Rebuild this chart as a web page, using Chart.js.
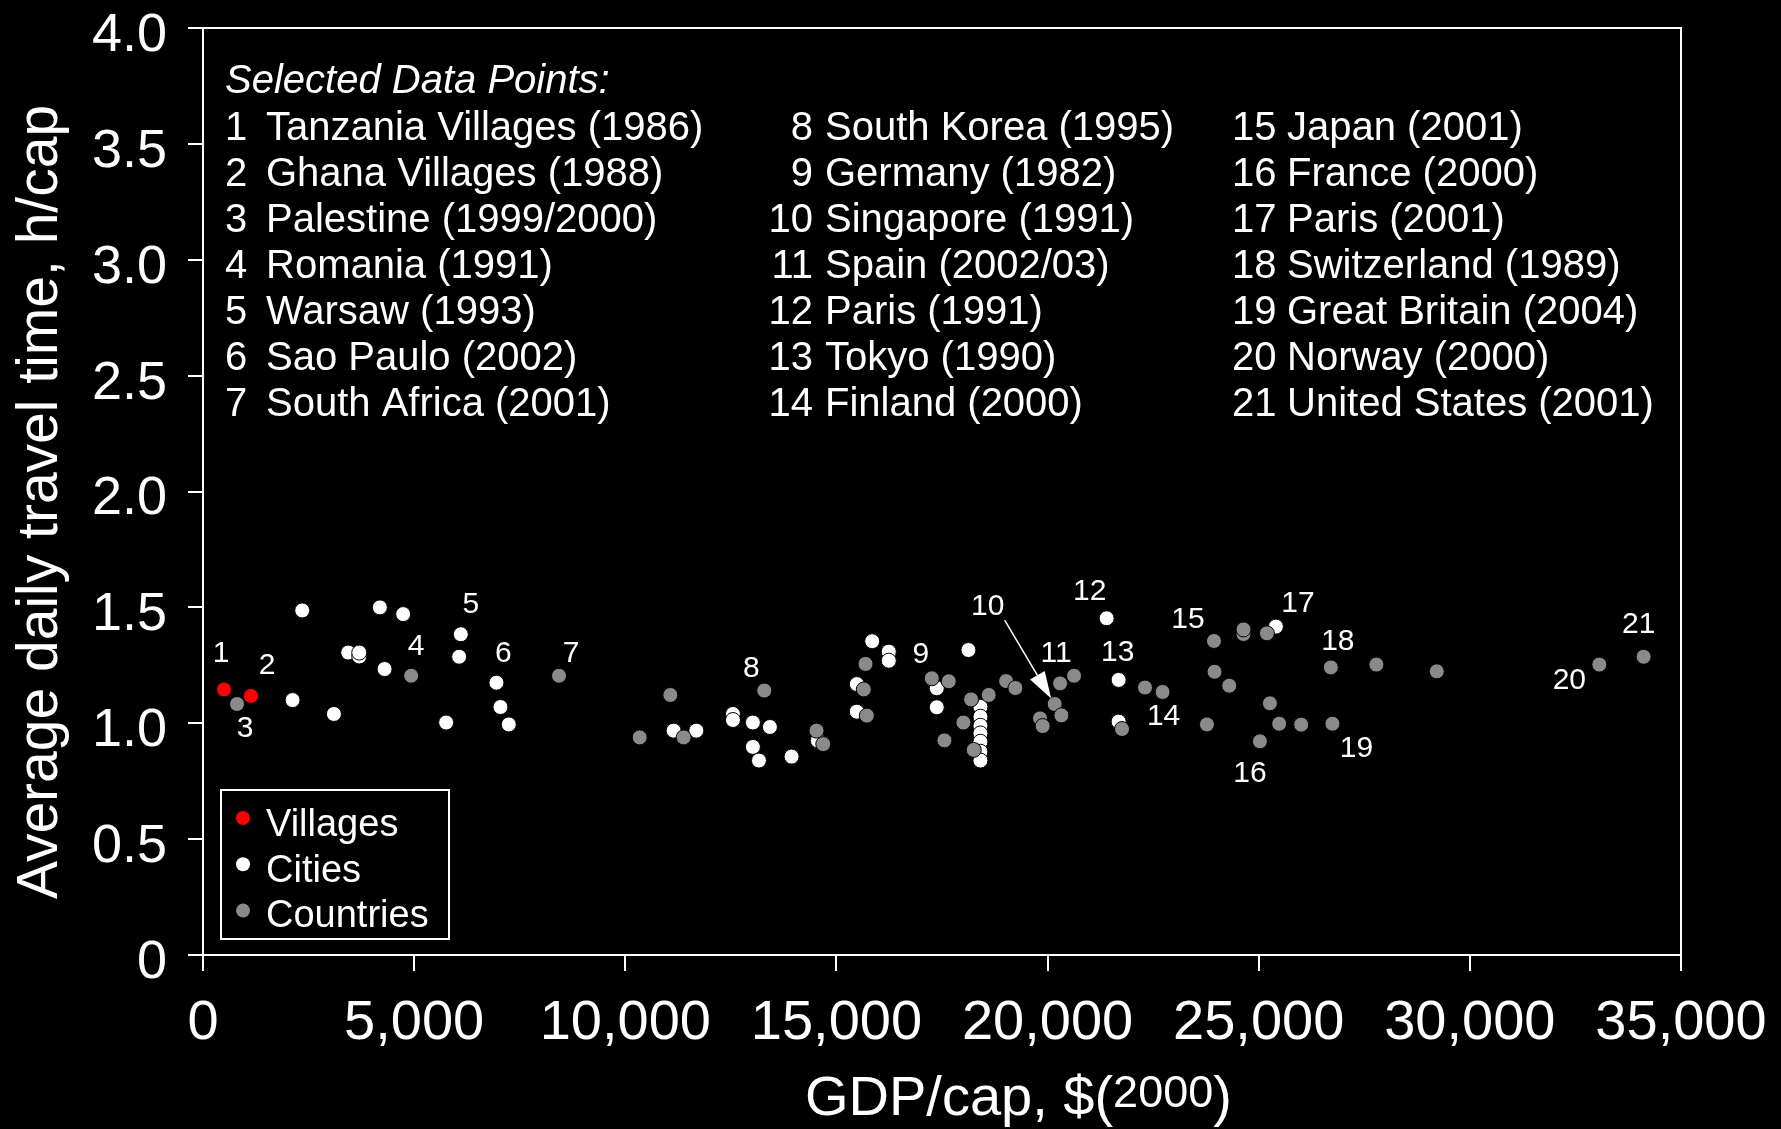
<!DOCTYPE html>
<html>
<head>
<meta charset="utf-8">
<script src="https://cdn.jsdelivr.net/npm/chart.js@4.4.1/dist/chart.umd.min.js"></script>
<style>
  html, body { margin: 0; padding: 0; background: #000; }
  #wrap { width: 1781px; height: 1129px; }
</style>
</head>
<body>
<div id="wrap"><canvas id="myChart" width="1781" height="1129"></canvas></div>
<script>
// GDP per capita in $(2000) against average daily travel time in h/cap
var villageGdp  = [497, 1136];
var villageTime = [1.146, 1.118];

var cityGdp  = [2350, 2122, 3100, 3439, 3700, 3700, 4188, 4740, 4300, 6105, 6066, 5758, 6949, 7044, 7241,
                11145, 11682, 12549, 12549, 13022, 13425, 13022, 13165, 13938, 14560,
                15847, 16240, 16240, 15483, 15483, 17376, 17376, 18126,
                18410, 18410, 18410, 18410, 18410, 18410, 18410,
                21399, 21683, 21683, 25407];
var cityTime = [1.487, 1.100, 1.040, 1.305, 1.288, 1.305, 1.500, 1.471, 1.234, 1.384, 1.287, 1.003, 1.175, 1.070, 0.995,
                0.968, 0.968, 1.040, 1.014, 1.003, 0.984, 0.898, 0.839, 0.856, 0.925,
                1.354, 1.309, 1.270, 1.169, 1.050, 1.151, 1.069, 1.316,
                1.071, 1.028, 0.989, 0.956, 0.920, 0.877, 0.839,
                1.453, 1.187, 1.007, 1.417];

var countryGdp  = [805, 4930, 8431, 10341, 11067, 11382, 13291, 14529, 14688, 15689, 15648, 15720,
                   17258, 17660, 18189, 18606, 18007, 17558, 18252, 19018, 19238, 19822, 19884,
                   20168, 20296, 20627, 20327, 21763, 22307, 22724, 23774, 23940, 23954, 24302,
                   24640, 24640, 25194, 25265, 25485, 25029, 26006, 26746, 26708, 27787, 29217,
                   33066, 34115];
var countryTime = [1.083, 1.205, 1.205, 0.939, 1.122, 0.939, 1.141, 0.968, 0.910, 1.256, 1.146, 1.033,
                   1.194, 1.181, 1.103, 1.122, 1.003, 0.926, 0.885, 1.182, 1.152, 1.021, 0.988,
                   1.083, 1.172, 1.205, 1.034, 0.975, 1.154, 1.135, 0.995, 1.355, 1.222, 1.162,
                   1.385, 1.405, 1.388, 1.086, 0.998, 0.922, 0.994, 0.998, 1.241, 1.253, 1.224,
                   1.253, 1.287];

// tick values
var xTicks = [0, 5000, 10000, 15000, 20000, 25000, 30000, 35000];
var yTicks = [0, 0.5, 1.0, 1.5, 2.0, 2.5, 3.0, 3.5, 4.0];

// numbered points in the plot: [number, gdp, time]
var selectedPoints = [
  [1, 497, 1.146], [2, 1136, 1.118], [3, 805, 1.083], [4, 4930, 1.205], [5, 6105, 1.384],
  [6, 6949, 1.175], [7, 8431, 1.205], [8, 13291, 1.141], [9, 17258, 1.194], [10, 20168, 1.083],
  [11, 20296, 1.172], [12, 21399, 1.453], [13, 21683, 1.187], [14, 22724, 1.135], [15, 23940, 1.355],
  [16, 25029, 0.922], [17, 25407, 1.417], [18, 26708, 1.241], [19, 26746, 0.998], [20, 33066, 1.253],
  [21, 34115, 1.287]
];

var selectedNames = [
  "Tanzania Villages (1986)", "Ghana Villages (1988)", "Palestine (1999/2000)", "Romania (1991)",
  "Warsaw (1993)", "Sao Paulo (2002)", "South Africa (2001)",
  "South Korea (1995)", "Germany (1982)", "Singapore (1991)", "Spain (2002/03)",
  "Paris (1991)", "Tokyo (1990)", "Finland (2000)",
  "Japan (2001)", "France (2000)", "Paris (2001)", "Switzerland (1989)",
  "Great Britain (2004)", "Norway (2000)", "United States (2001)"
];

var FONT = '"Liberation Sans", Arial, sans-serif';

function toPoints(xs, ys) {
  return xs.map((x, i) => ({ x: x, y: ys[i] }));
}

// where each number sits relative to its point, px
var labelOffsets = {
  1: [-3, -36], 2: [16, -30], 3: [8, 25], 4: [5, -29], 5: [10, -30], 6: [7, -29], 7: [12, -22],
  8: [-13, -22], 9: [-11, -24], 10: [-67, -97], 11: [-4, -30], 12: [-17, -27], 13: [-1, -27],
  14: [1, 25], 15: [-26, -21], 16: [-10, 32], 17: [22, -23], 18: [7, -26], 19: [24, 25],
  20: [-30, 16], 21: [-5, -32]
};

var annotations = {
  id: 'annotations',
  afterDatasetsDraw(chart) {
    const ctx = chart.ctx;
    const xs = chart.scales.x, ys = chart.scales.y;
    const a = chart.chartArea;
    ctx.save();
    ctx.fillStyle = '#fff';
    ctx.strokeStyle = '#fff';

    // frame on top and right
    ctx.lineWidth = 2;
    ctx.beginPath();
    ctx.moveTo(a.left, a.top);
    ctx.lineTo(a.right, a.top);
    ctx.lineTo(a.right, a.bottom);
    ctx.stroke();

    // point numbers
    ctx.font = '30px ' + FONT;
    ctx.textAlign = 'center';
    ctx.textBaseline = 'middle';
    selectedPoints.forEach(p => {
      const px = xs.getPixelForValue(p[1]), py = ys.getPixelForValue(p[2]);
      const off = labelOffsets[p[0]];
      ctx.fillText(String(p[0]), px + off[0], py + off[1]);
      if (p[0] === 10) {
        // arrow to Singapore
        const sx = px - 50, sy = py - 84, tx = px - 3.5, ty = py - 5.5;
        const ang = Math.atan2(ty - sy, tx - sx);
        const hl = 27, hw = 8.5;
        const bx = tx - hl * Math.cos(ang), by = ty - hl * Math.sin(ang);
        ctx.lineWidth = 1.5;
        ctx.beginPath();
        ctx.moveTo(sx, sy);
        ctx.lineTo(bx, by);
        ctx.stroke();
        ctx.beginPath();
        ctx.moveTo(tx, ty);
        ctx.lineTo(bx + hw * Math.sin(ang), by - hw * Math.cos(ang));
        ctx.lineTo(bx - hw * Math.sin(ang), by + hw * Math.cos(ang));
        ctx.closePath();
        ctx.fill();
      }
    });

    // list of selected data points
    ctx.textBaseline = 'alphabetic';
    ctx.textAlign = 'left';
    ctx.font = 'italic 40px ' + FONT;
    ctx.fillText('Selected Data Points:', 225, 93);
    ctx.font = '40px ' + FONT;
    const cols = [
      { from: 0, to: 7, numX: 225, numAlign: 'left', nameX: 266 },
      { from: 7, to: 14, numX: 813, numAlign: 'right', nameX: 825 },
      { from: 14, to: 21, numX: 1232, numAlign: 'left', nameX: 1287 }
    ];
    cols.forEach(c => {
      for (let i = c.from; i < c.to; i++) {
        const y = 140 + (i - c.from) * 46;
        ctx.textAlign = c.numAlign;
        ctx.fillText(String(i + 1), c.numX, y);
        ctx.textAlign = 'left';
        ctx.fillText(selectedNames[i], c.nameX, y);
      }
    });

    // legend box
    ctx.lineWidth = 2;
    ctx.strokeRect(221, 790, 228, 149);
    ctx.font = '38px ' + FONT;
    chart.data.datasets.slice().sort((d1, d2) => d1.legendPos - d2.legendPos).forEach((ds, i) => {
      ctx.fillStyle = ds.backgroundColor;
      ctx.beginPath();
      ctx.arc(243, 818 + i * 46.3, 7, 0, Math.PI * 2);
      ctx.fill();
      ctx.fillStyle = '#fff';
      ctx.fillText(ds.label, 266, 836 + i * 45.5);
    });

    // axis titles
    ctx.font = '56px ' + FONT;
    ctx.textAlign = 'left';
    let x = 805;
    ctx.fillText('GDP/cap, $(', x, 1115);
    x += ctx.measureText('GDP/cap, $(').width;
    ctx.font = '45px ' + FONT;
    ctx.fillText('2000', x, 1107);
    x += ctx.measureText('2000').width;
    ctx.font = '56px ' + FONT;
    ctx.fillText(')', x, 1115);

    ctx.font = '57px ' + FONT;
    ctx.translate(57, 502);
    ctx.rotate(-Math.PI / 2);
    ctx.textAlign = 'center';
    ctx.fillText('Average daily travel time, h/cap', 0, 0);
    ctx.restore();
  }
};

var ctx = document.getElementById('myChart');
var myChart = new Chart(ctx, {
  type: 'scatter',
  data: {
    datasets: [
      {
        label: 'Villages',
        data: toPoints(villageGdp, villageTime),
        backgroundColor: '#ff0000',
        borderColor: '#000',
        order: 0,
        legendPos: 0
      },
      {
        label: 'Countries',
        data: toPoints(countryGdp, countryTime),
        backgroundColor: '#8a8a8a',
        borderColor: '#000',
        order: 1,
        legendPos: 2
      },
      {
        label: 'Cities',
        data: toPoints(cityGdp, cityTime),
        backgroundColor: '#ffffff',
        borderColor: '#000',
        order: 2,
        legendPos: 1
      }
    ]
  },
  options: {
    responsive: false,
    animation: false,
    layout: { padding: { left: 0, right: 100, top: 28, bottom: 0 } },
    elements: { point: { radius: 7.5, borderWidth: 1, hoverRadius: 7.5 } },
    plugins: { legend: { display: false }, tooltip: { enabled: false } },
    scales: {
      x: {
        type: 'linear',
        min: 0, max: 35000,
        afterBuildTicks: s => { s.ticks = xTicks.map(v => ({ value: v })); },
        afterFit: s => { s.height = 174; s.paddingLeft = 0; s.paddingRight = 0; },
        grid: { drawOnChartArea: false, drawTicks: true, tickLength: 16, color: '#fff', lineWidth: 2 },
        border: { display: true, color: '#fff', width: 2 },
        ticks: {
          color: '#fff', font: { family: FONT, size: 56 }, padding: 19, maxRotation: 0,
          callback: v => v.toLocaleString('en-US')
        }
      },
      y: {
        type: 'linear',
        min: 0, max: 4,
        afterBuildTicks: s => { s.ticks = yTicks.map(v => ({ value: v })); },
        afterFit: s => { s.width = 203; s.paddingTop = 0; s.paddingBottom = 0; },
        grid: { drawOnChartArea: false, drawTicks: true, tickLength: 15, color: '#fff', lineWidth: 2 },
        border: { display: true, color: '#fff', width: 2 },
        ticks: {
          color: '#fff', font: { family: FONT, size: 54 }, padding: 21, labelOffset: 8,
          callback: v => v === 0 ? '0' : v.toFixed(1)
        }
      }
    }
  },
  plugins: [annotations]
});
</script>
</body>
</html>
